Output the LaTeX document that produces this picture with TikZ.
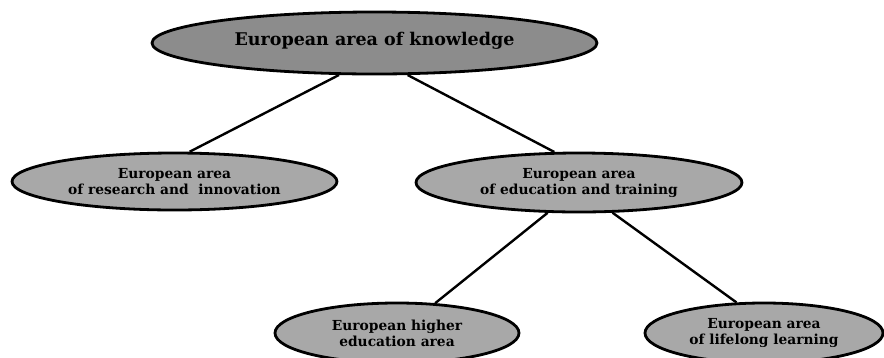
\documentclass[tikz,border=0pt]{standalone}
\usepackage{fontspec}
\setmainfont{DejaVu Serif}
\usetikzlibrary{shapes.geometric}
\definecolor{topfill}{RGB}{140,140,140}
\definecolor{boxfill}{RGB}{168,168,168}
\tikzset{
  area/.style={ellipse, draw=black, line width=2.8pt, fill=boxfill, inner sep=0pt,
    align=center, font=\bfseries\fontsize{13.8}{16}\selectfont},
  link/.style={draw=black, line width=2.4pt}
}
\begin{document}
\begin{tikzpicture}[x=1pt,y=-1pt]
\useasboundingbox (0,0) rectangle (884,357);
\node[area, fill=topfill, minimum width=445pt, minimum height=62pt,
      font=\bfseries\fontsize{17.5}{20}\selectfont] (top) at (374.5,43)
      {\raisebox{8.5pt}{European area of knowledge}};
\node[area, minimum width=325pt, minimum height=57pt] (res) at (174.5,181.5)
      {European area\\of research and \ innovation};
\node[area, minimum width=326pt, minimum height=59pt] (edu) at (579,182.5)
      {European area\\of education and training};
\node[area, minimum width=244pt, minimum height=60pt] (high) at (397,333)
      {European higher\\education area};
\node[area, minimum width=238pt, minimum height=60pt] (life) at (764,333)
      {European area\\of lifelong learning};
\draw[link] (top.222) -- (res.63);
\draw[link] (top.316) -- (edu.129);
\draw[link] (edu.224) -- (high.38);
\draw[link] (edu.318) -- (life.132);
\end{tikzpicture}
\end{document}
